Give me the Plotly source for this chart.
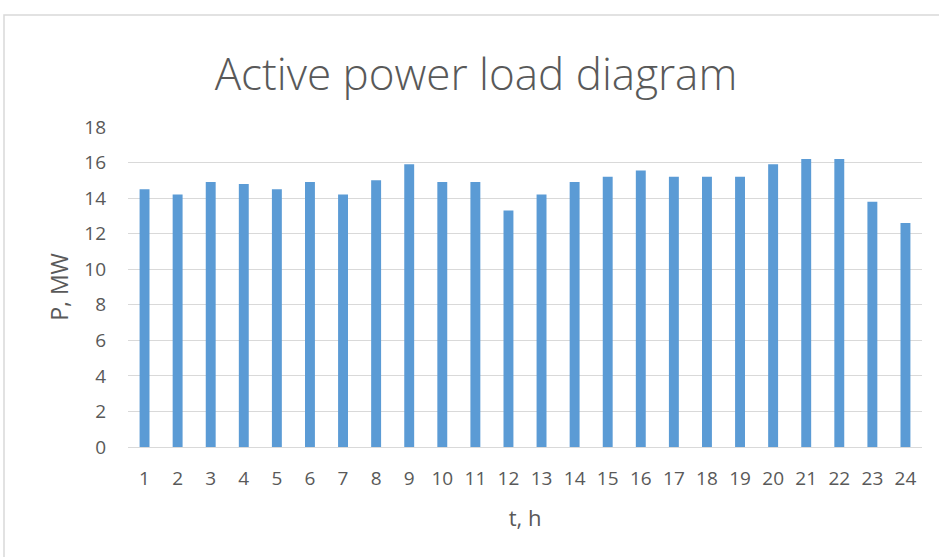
import plotly.graph_objects as go

hours = [str(i) for i in range(1, 25)]
power_mw = [14.5, 14.2, 14.9, 14.8, 14.5, 14.9, 14.2, 15.0, 15.9, 14.9, 14.9, 13.3,
            14.2, 14.9, 15.2, 15.55, 15.2, 15.2, 15.2, 15.9, 16.2, 16.2, 13.8, 12.6]
y_ticks = list(range(0, 19, 2))

W, H = 939, 557
L, R, T, B = 128, 17, 127, 110
pw, ph = W - L - R, H - T - B
GREY = "#595959"

fig = go.Figure(go.Bar(x=hours, y=power_mw, marker_color="#5B9BD5", marker_line_width=0))

fig.update_layout(
    width=W, height=H,
    margin=dict(l=L, r=R, t=T, b=B),
    paper_bgcolor="white", plot_bgcolor="white",
    bargap=0.7,
    showlegend=False,
    title=dict(text="Active power load diagram", x=476 / W, xanchor="center",
               y=1 - 75 / H, yanchor="middle",
               font=dict(family="Open Sans", size=44, color=GREY, weight=300)),
    font=dict(family="Open Sans", color=GREY),
)
fig.update_xaxes(type="category", tickfont=dict(size=19, color=GREY),
                 title=dict(text="t, h", font=dict(size=22, color=GREY), standoff=20),
                 showgrid=False, showline=True, linecolor="#D9D9D9", linewidth=1,
                 ticks="", ticklabelstandoff=14)
fig.update_yaxes(range=[0, 18], tickvals=y_ticks, tickfont=dict(size=19, color=GREY),
                 title=dict(text="P, MW", font=dict(size=23, color=GREY), standoff=9),
                 showgrid=True, gridcolor="#D9D9D9", gridwidth=1, zeroline=False,
                 ticks="", ticklabelstandoff=21)

# outer chart border
fig.add_shape(type="rect", xref="paper", yref="paper",
              x0=(4 - L) / pw, x1=(W + 5 - L) / pw,
              y0=(H - T - (H + 5)) / ph, y1=(H - B - 15) / ph,
              line=dict(color="#D9D9D9", width=1.5), fillcolor="rgba(0,0,0,0)", layer="below")

fig.write_html("out.html", config={"displayModeBar": False},
               post_script="document.body.style.margin='0';")
